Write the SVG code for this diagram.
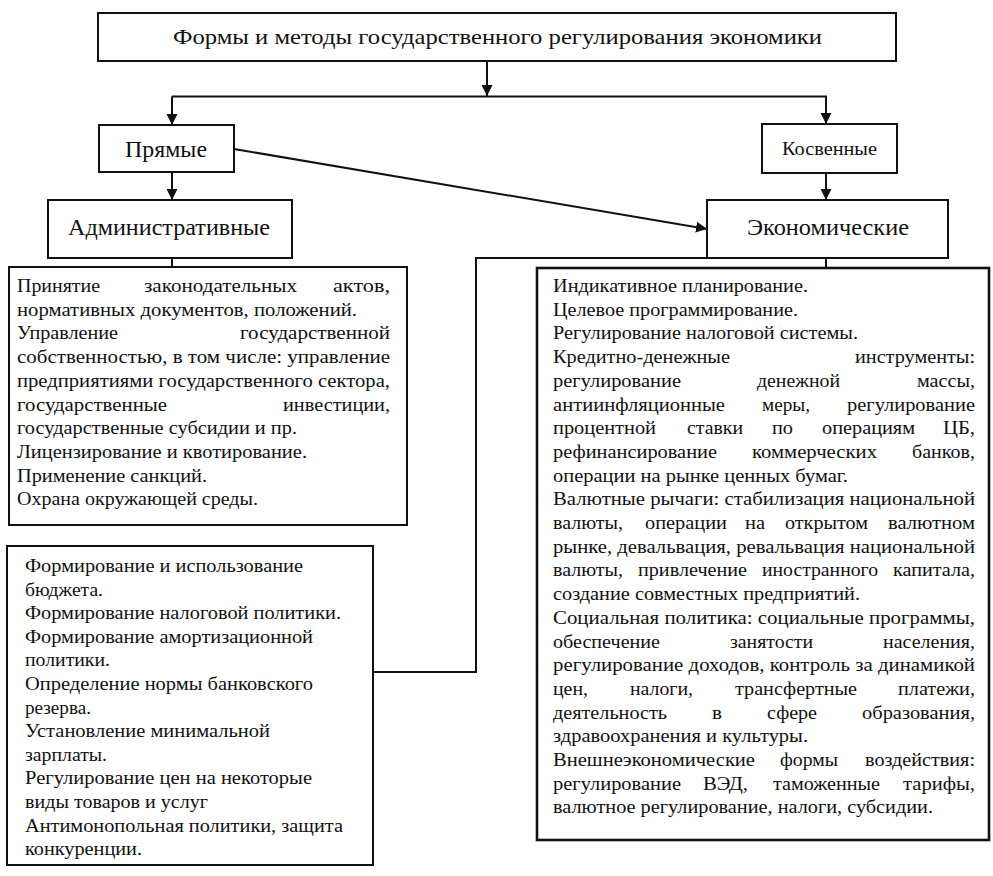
<svg xmlns="http://www.w3.org/2000/svg" width="993" height="876" viewBox="0 0 993 876">
<defs>
<style>
.box{fill:#fff;stroke:#111;stroke-width:2}
.bx2{fill:#fff;stroke:#111;stroke-width:2.6}
.ln{fill:none;stroke:#111;stroke-width:2}
text{font-family:"Liberation Serif",Tinos,"Times New Roman",Times,"Noto Serif","DejaVu Serif",FreeSerif,serif;fill:#111}
.t{font-size:18px}
.h{font-size:23px}
</style>
<marker id="ah" viewBox="0 0 10 10" refX="10" refY="5" markerWidth="11" markerHeight="12" markerUnits="userSpaceOnUse" orient="auto">
<path d="M0,0 L10,5 L0,10 z" fill="#111"/>
</marker>
</defs>
<rect width="993" height="876" fill="#fff"/>

<g id="connectors">
<line class="ln" x1="487" y1="61" x2="487" y2="96" marker-end="url(#ah)"/>
<polyline class="ln" points="172,96.5 826,96.5 826,124" marker-end="url(#ah)"/>
<line class="ln" x1="172" y1="96.5" x2="172" y2="125" marker-end="url(#ah)"/>
<line class="ln" x1="172" y1="172" x2="172" y2="200" marker-end="url(#ah)"/>
<line class="ln" x1="826" y1="173" x2="826" y2="200" marker-end="url(#ah)"/>
<line class="ln" x1="234" y1="149" x2="707" y2="229" marker-end="url(#ah)"/>
<line class="ln" x1="172" y1="258" x2="172" y2="267"/>
<line class="ln" x1="826" y1="258" x2="826" y2="268"/>
<polyline class="ln" points="373,672 476,672 476,258 707,258"/>
</g>

<g id="top">
<rect class="box" x="98" y="13" width="798" height="48"/>
<text x="173" y="44" font-size="22" textLength="649" lengthAdjust="spacingAndGlyphs">Формы и методы государственного регулирования экономики</text>
</g>

<g id="pryamye">
<rect class="box" x="99" y="125" width="135" height="47"/>
<text class="h" x="125" y="157" textLength="82" lengthAdjust="spacingAndGlyphs">Прямые</text>
</g>

<g id="kosvennye">
<rect class="box" x="762" y="124" width="135" height="49"/>
<text x="782" y="155" font-size="19" textLength="95" lengthAdjust="spacingAndGlyphs">Косвенные</text>
</g>

<g id="admin">
<rect class="box" x="48" y="200" width="244" height="58"/>
<text class="h" x="68" y="235" textLength="202" lengthAdjust="spacingAndGlyphs">Административные</text>
</g>

<g id="econ">
<rect class="box" x="707" y="200" width="241" height="58"/>
<text class="h" x="747" y="235" textLength="162" lengthAdjust="spacingAndGlyphs">Экономические</text>
</g>

<g id="admin-list">
<rect class="box" x="9" y="267" width="398" height="258"/>
<g class="t">
<text x="17" y="292" textLength="83" lengthAdjust="spacingAndGlyphs">Принятие</text>
<text x="144" y="292" textLength="153" lengthAdjust="spacingAndGlyphs">законодательных</text>
<text x="333" y="292" textLength="57" lengthAdjust="spacingAndGlyphs">актов,</text>
<text x="17" y="315.7" textLength="340" lengthAdjust="spacingAndGlyphs">нормативных документов, положений.</text>
<text x="17" y="339.4" textLength="101" lengthAdjust="spacingAndGlyphs">Управление</text>
<text x="240" y="339.4" textLength="150" lengthAdjust="spacingAndGlyphs">государственной</text>
<text x="17" y="363.1" textLength="373" lengthAdjust="spacingAndGlyphs">собственностью, в том числе: управление</text>
<text x="17" y="386.8" textLength="373" lengthAdjust="spacingAndGlyphs">предприятиями государственного сектора,</text>
<text x="17" y="410.5" textLength="150" lengthAdjust="spacingAndGlyphs">государственные</text>
<text x="283" y="410.5" textLength="107" lengthAdjust="spacingAndGlyphs">инвестиции,</text>
<text x="17" y="434.2" textLength="280" lengthAdjust="spacingAndGlyphs">государственные субсидии и пр.</text>
<text x="17" y="457.9" textLength="290" lengthAdjust="spacingAndGlyphs">Лицензирование и квотирование.</text>
<text x="17" y="481.6" textLength="190" lengthAdjust="spacingAndGlyphs">Применение санкций.</text>
<text x="17" y="505.3" textLength="241" lengthAdjust="spacingAndGlyphs">Охрана окружающей среды.</text>
</g>
</g>

<g id="econ-list-left">
<rect class="box" x="7" y="546" width="366" height="319"/>
<g class="t">
<text x="25" y="572" textLength="278" lengthAdjust="spacingAndGlyphs">Формирование и использование</text>
<text x="25" y="595.6" textLength="78" lengthAdjust="spacingAndGlyphs">бюджета.</text>
<text x="25" y="619.2" textLength="316" lengthAdjust="spacingAndGlyphs">Формирование налоговой политики.</text>
<text x="25" y="642.8" textLength="288" lengthAdjust="spacingAndGlyphs">Формирование амортизационной</text>
<text x="25" y="666.4" textLength="85" lengthAdjust="spacingAndGlyphs">политики.</text>
<text x="25" y="690" textLength="288" lengthAdjust="spacingAndGlyphs">Определение нормы банковского</text>
<text x="25" y="713.6" textLength="66" lengthAdjust="spacingAndGlyphs">резерва.</text>
<text x="25" y="737.2" textLength="245" lengthAdjust="spacingAndGlyphs">Установление минимальной</text>
<text x="25" y="760.8" textLength="82" lengthAdjust="spacingAndGlyphs">зарплаты.</text>
<text x="25" y="784.4" textLength="287" lengthAdjust="spacingAndGlyphs">Регулирование цен на некоторые</text>
<text x="25" y="808" textLength="183" lengthAdjust="spacingAndGlyphs">виды товаров и услуг</text>
<text x="25" y="831.6" textLength="318" lengthAdjust="spacingAndGlyphs">Антимонопольная политики, защита</text>
<text x="25" y="855.2" textLength="117" lengthAdjust="spacingAndGlyphs">конкуренции.</text>
</g>
</g>

<g id="econ-list-right">
<rect class="bx2" x="537" y="268" width="452" height="572"/>
<g class="t">
<text x="553" y="292" textLength="255" lengthAdjust="spacingAndGlyphs">Индикативное планирование.</text>
<text x="553" y="315.7" textLength="245" lengthAdjust="spacingAndGlyphs">Целевое программирование.</text>
<text x="553" y="339.4" textLength="305" lengthAdjust="spacingAndGlyphs">Регулирование налоговой системы.</text>
<text x="553" y="363.1" textLength="177" lengthAdjust="spacingAndGlyphs">Кредитно-денежные</text>
<text x="855" y="363.1" textLength="120" lengthAdjust="spacingAndGlyphs">инструменты:</text>
<text x="553" y="386.8" textLength="128" lengthAdjust="spacingAndGlyphs">регулирование</text>
<text x="757" y="386.8" textLength="83" lengthAdjust="spacingAndGlyphs">денежной</text>
<text x="917" y="386.8" textLength="58" lengthAdjust="spacingAndGlyphs">массы,</text>
<text x="553" y="410.5" textLength="172" lengthAdjust="spacingAndGlyphs">антиинфляционные</text>
<text x="762" y="410.5" textLength="48" lengthAdjust="spacingAndGlyphs">меры,</text>
<text x="847" y="410.5" textLength="128" lengthAdjust="spacingAndGlyphs">регулирование</text>
<text x="553" y="434.2" textLength="103" lengthAdjust="spacingAndGlyphs">процентной</text>
<text x="687" y="434.2" textLength="56" lengthAdjust="spacingAndGlyphs">ставки</text>
<text x="772" y="434.2" textLength="21" lengthAdjust="spacingAndGlyphs">по</text>
<text x="822" y="434.2" textLength="93" lengthAdjust="spacingAndGlyphs">операциям</text>
<text x="943" y="434.2" textLength="32" lengthAdjust="spacingAndGlyphs">ЦБ,</text>
<text x="553" y="457.9" textLength="164" lengthAdjust="spacingAndGlyphs">рефинансирование</text>
<text x="752" y="457.9" textLength="125" lengthAdjust="spacingAndGlyphs">коммерческих</text>
<text x="912" y="457.9" textLength="63" lengthAdjust="spacingAndGlyphs">банков,</text>
<text x="553" y="481.6" textLength="295" lengthAdjust="spacingAndGlyphs">операции на рынке ценных бумаг.</text>
<text x="553" y="505.3" textLength="422" lengthAdjust="spacingAndGlyphs">Валютные рычаги: стабилизация национальной</text>
<text x="553" y="529" textLength="70" lengthAdjust="spacingAndGlyphs">валюты,</text>
<text x="645" y="529" textLength="82" lengthAdjust="spacingAndGlyphs">операции</text>
<text x="745" y="529" textLength="20" lengthAdjust="spacingAndGlyphs">на</text>
<text x="785" y="529" textLength="83" lengthAdjust="spacingAndGlyphs">открытом</text>
<text x="888" y="529" textLength="87" lengthAdjust="spacingAndGlyphs">валютном</text>
<text x="553" y="552.7" textLength="422" lengthAdjust="spacingAndGlyphs">рынке, девальвация, ревальвация национальной</text>
<text x="553" y="576.4" textLength="70" lengthAdjust="spacingAndGlyphs">валюты,</text>
<text x="638" y="576.4" textLength="109" lengthAdjust="spacingAndGlyphs">привлечение</text>
<text x="762" y="576.4" textLength="116" lengthAdjust="spacingAndGlyphs">иностранного</text>
<text x="893" y="576.4" textLength="82" lengthAdjust="spacingAndGlyphs">капитала,</text>
<text x="553" y="600.1" textLength="307" lengthAdjust="spacingAndGlyphs">создание совместных предприятий.</text>
<text x="553" y="623.8" textLength="422" lengthAdjust="spacingAndGlyphs">Социальная политика: социальные программы,</text>
<text x="553" y="647.5" textLength="107" lengthAdjust="spacingAndGlyphs">обеспечение</text>
<text x="730" y="647.5" textLength="83" lengthAdjust="spacingAndGlyphs">занятости</text>
<text x="883" y="647.5" textLength="92" lengthAdjust="spacingAndGlyphs">населения,</text>
<text x="553" y="671.2" textLength="422" lengthAdjust="spacingAndGlyphs">регулирование доходов, контроль за динамикой</text>
<text x="553" y="694.9" textLength="35" lengthAdjust="spacingAndGlyphs">цен,</text>
<text x="630" y="694.9" textLength="63" lengthAdjust="spacingAndGlyphs">налоги,</text>
<text x="735" y="694.9" textLength="122" lengthAdjust="spacingAndGlyphs">трансфертные</text>
<text x="898" y="694.9" textLength="77" lengthAdjust="spacingAndGlyphs">платежи,</text>
<text x="553" y="718.6" textLength="114" lengthAdjust="spacingAndGlyphs">деятельность</text>
<text x="712" y="718.6" textLength="10" lengthAdjust="spacingAndGlyphs">в</text>
<text x="767" y="718.6" textLength="50" lengthAdjust="spacingAndGlyphs">сфере</text>
<text x="862" y="718.6" textLength="113" lengthAdjust="spacingAndGlyphs">образования,</text>
<text x="553" y="742.3" textLength="255" lengthAdjust="spacingAndGlyphs">здравоохранения и культуры.</text>
<text x="553" y="766" textLength="202" lengthAdjust="spacingAndGlyphs">Внешнеэкономические</text>
<text x="780" y="766" textLength="58" lengthAdjust="spacingAndGlyphs">формы</text>
<text x="865" y="766" textLength="110" lengthAdjust="spacingAndGlyphs">воздействия:</text>
<text x="553" y="789.7" textLength="128" lengthAdjust="spacingAndGlyphs">регулирование</text>
<text x="703" y="789.7" textLength="45" lengthAdjust="spacingAndGlyphs">ВЭД,</text>
<text x="773" y="789.7" textLength="107" lengthAdjust="spacingAndGlyphs">таможенные</text>
<text x="903" y="789.7" textLength="72" lengthAdjust="spacingAndGlyphs">тарифы,</text>
<text x="553" y="813.4" textLength="380" lengthAdjust="spacingAndGlyphs">валютное регулирование, налоги, субсидии.</text>
</g>
</g>
</svg>
